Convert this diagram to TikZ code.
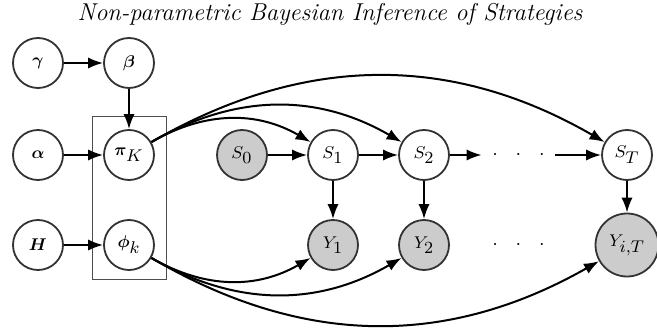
\RequirePackage{fix-cm}
\documentclass[tikz,border=0pt]{standalone}
\usepackage{bm}
\usetikzlibrary{arrows.meta}
% node labels: 8.5pt text, sub- and superscripts kept at the same size
\DeclareMathSizes{8.5}{8.5}{8.5}{8.5}
\newcommand\varfont{\fontsize{8.5}{10}\selectfont}
\begin{document}
\begin{tikzpicture}[x=0.5pt,y=-0.5pt,
  var/.style={circle,draw=black!80,line width=0.9pt,minimum size=25pt,inner sep=1pt,font=\varfont},
  obs/.style={var,fill=black!20},
  plate/.style={draw=black!70,line width=0.5pt,minimum width=36.75pt,minimum height=81pt,inner sep=0pt},
  arr/.style={-{Latex},line width=1pt},
  dotrow/.style={inner sep=0pt,minimum width=36.5pt,minimum height=6pt}]
\useasboundingbox (0,0) rectangle (657,331);

\node[anchor=base,font=\fontsize{12.2}{14}\selectfont\itshape] (title) at (330,20.7) {Non-parametric Bayesian Inference of Strategies};

% plate around the cluster parameters
\node[plate] (plateK) at (129.25,198) {};

% hyperparameters and cluster parameters
\node[var] (gamma) at (38,63)  {$\bm{\gamma}$};
\node[var] (beta)  at (129,63) {$\bm{\beta}$};
\node[var] (alpha) at (38,155) {$\bm{\alpha}$};
\node[var] (pi)    at (129,155) {$\bm{\pi}_K$};
\node[var] (H)     at (38,245) {$\bm{H}$};
\node[var] (phi)   at (129,245) {$\bm{\phi}_k$};

% hidden state chain
\node[obs] (S0) at (242,155) {$S_0$};
\node[var] (S1) at (333,155) {$S_1$};
\node[var] (S2) at (424,155) {$S_2$};
\node[dotrow] (sdots) at (518.5,155) {$\cdot\hskip6.7pt\cdot\hskip6.7pt\cdot$};
\node[var] (ST) at (627,155) {$S_T$};

% observations
\node[obs] (Y1) at (333,245) {$Y_1$};
\node[obs] (Y2) at (424,245) {$Y_2$};
\node[dotrow] (ydots) at (518.5,245) {$\cdot\hskip6.7pt\cdot\hskip6.7pt\cdot$};
\node[obs,minimum size=31.5pt] (YT) at (627,245) {$Y_{i,T}$};

% straight dependencies
\draw[arr] (gamma) -- (beta);
\draw[arr] (beta) -- (pi);
\draw[arr] (alpha) -- (pi);
\draw[arr] (H) -- (phi);
\draw[arr] (S0) -- (S1);
\draw[arr] (S1) -- (S2);
\draw[arr] (S2) -- (sdots.west);
\draw[arr] (sdots.east) -- (ST);
\draw[arr] (S1) -- (Y1);
\draw[arr] (S2) -- (Y2);
\draw[arr] (ST) -- (YT);

% transition parameters to every state
\draw[arr] (pi) to[bend left=30] (S1);
\draw[arr] (pi) to[bend left=30] (S2);
\draw[arr] (pi) to[bend left=30] (ST);

% emission parameters to every observation
\draw[arr] (phi) to[bend right=30] (Y1);
\draw[arr] (phi) to[bend right=30] (Y2);
\draw[arr] (phi) to[bend right=30] (YT);
\end{tikzpicture}
\end{document}
